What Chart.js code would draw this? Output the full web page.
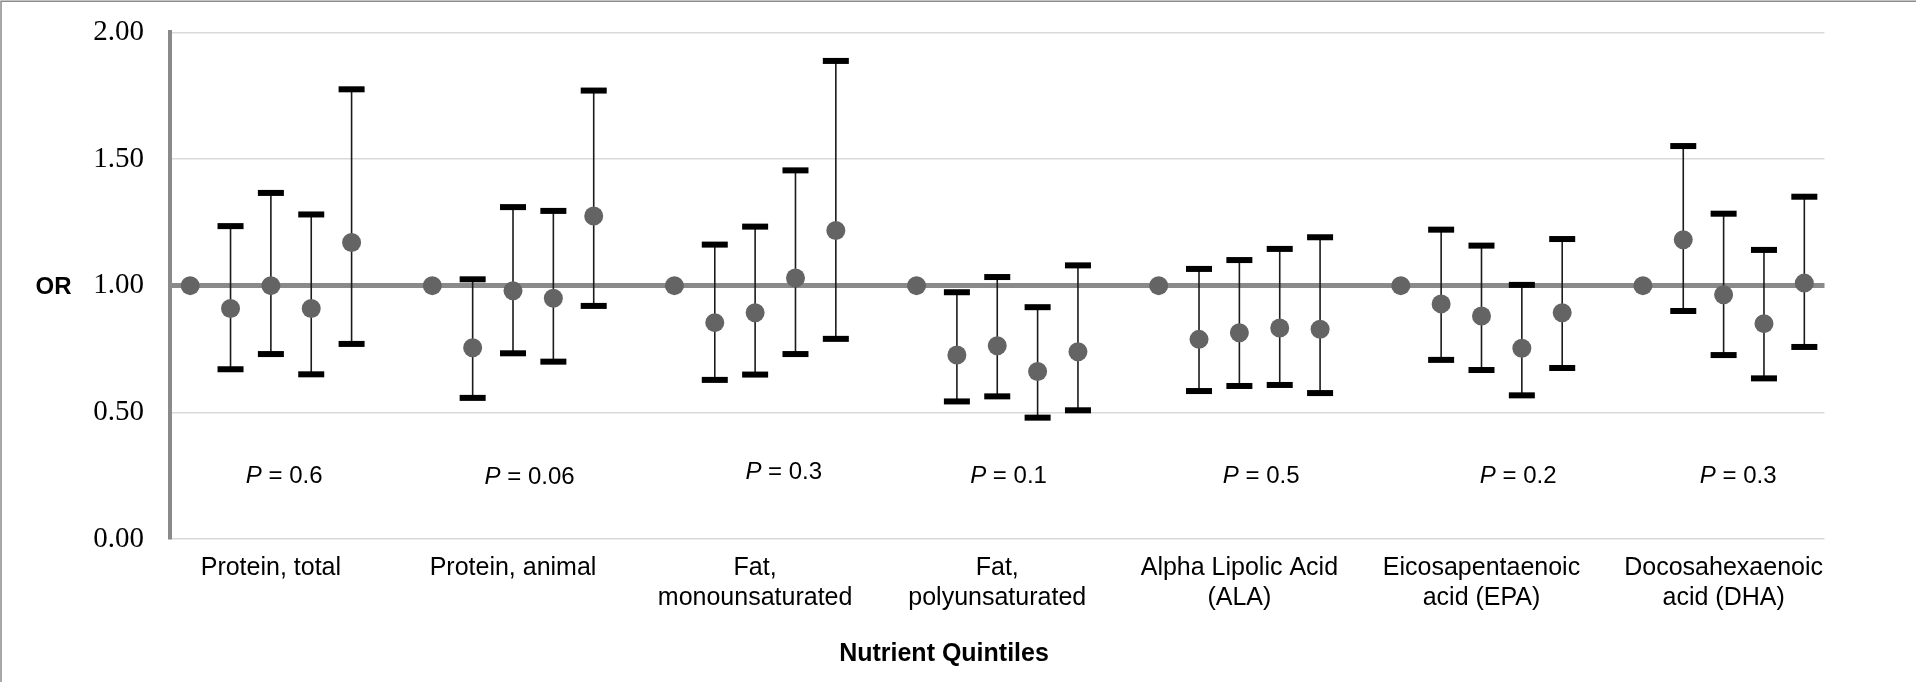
<!DOCTYPE html>
<html>
<head>
<meta charset="utf-8">
<script src="https://cdn.jsdelivr.net/npm/chart.js@4.4.1/dist/chart.umd.min.js"></script>
<style>
  html, body { margin: 0; padding: 0; background: #fff; }
  #wrap { width: 1916px; height: 682px; position: relative; }
</style>
</head>
<body>
<div id="wrap"><canvas id="c" width="1916" height="682"></canvas></div>
<script>
// ---------------- DATA ----------------
const categories = [
  ['Protein, total'],
  ['Protein, animal'],
  ['Fat,', 'monounsaturated'],
  ['Fat,', 'polyunsaturated'],
  ['Alpha Lipolic Acid', '(ALA)'],
  ['Eicosapentaenoic', 'acid (EPA)'],
  ['Docosahexaenoic', 'acid (DHA)']
];
// odds ratios for quintiles Q1..Q5 of each nutrient
const orProteinTotal  = [1.00, 0.91, 1.00, 0.91, 1.17];
const orProteinAnimal = [1.00, 0.755, 0.98, 0.95, 1.275];
const orFatMono       = [1.00, 0.854, 0.893, 1.03, 1.218];
const orFatPoly       = [1.00, 0.726, 0.763, 0.661, 0.739];
const orALA           = [1.00, 0.788, 0.814, 0.833, 0.828];
const orEPA           = [1.00, 0.928, 0.88, 0.753, 0.893];
const orDHA           = [1.00, 1.181, 0.964, 0.85, 1.01];
// lower 95% CI
const loProteinTotal  = [null, 0.67, 0.73, 0.65, 0.77];
const loProteinAnimal = [null, 0.557, 0.733, 0.70, 0.92];
const loFatMono       = [null, 0.628, 0.649, 0.73, 0.79];
const loFatPoly       = [null, 0.543, 0.563, 0.479, 0.508];
const loALA           = [null, 0.584, 0.604, 0.608, 0.576];
const loEPA           = [null, 0.707, 0.667, 0.567, 0.675];
const loDHA           = [null, 0.90, 0.726, 0.634, 0.758];
// upper 95% CI
const hiProteinTotal  = [null, 1.235, 1.366, 1.281, 1.775];
const hiProteinAnimal = [null, 1.025, 1.31, 1.295, 1.77];
const hiFatMono       = [null, 1.162, 1.233, 1.455, 1.887];
const hiFatPoly       = [null, 0.974, 1.034, 0.915, 1.08];
const hiALA           = [null, 1.066, 1.101, 1.145, 1.191];
const hiEPA           = [null, 1.221, 1.158, 1.003, 1.184];
const hiDHA           = [null, 1.551, 1.284, 1.141, 1.351];
// trend P values
const pValues = ['0.6', '0.06', '0.3', '0.1', '0.5', '0.2', '0.3'];
// y axis ticks
const yTicks = [0, 0.5, 1.0, 1.5, 2.0];

// ---------------- LAYOUT (annotation placement, not data) ----------------
// P-label anchor in category-slot units (x) and axis value units (y)
const pLabelX = [2.33, 8.41, 14.71, 20.28, 26.54, 32.91, 38.36];
const pLabelY = [0.249, 0.245, 0.264, 0.246, 0.246, 0.246, 0.246];

// ---------------- BUILD SLOT TABLE ----------------
const orGroups = [orProteinTotal, orProteinAnimal, orFatMono, orFatPoly, orALA, orEPA, orDHA];
const loGroups = [loProteinTotal, loProteinAnimal, loFatMono, loFatPoly, loALA, loEPA, loDHA];
const hiGroups = [hiProteinTotal, hiProteinAnimal, hiFatMono, hiFatPoly, hiALA, hiEPA, hiDHA];
const slotLabels = [], orSlots = [], loSlots = [], hiSlots = [];
orGroups.forEach((g, gi) => {
  g.forEach((v, qi) => {
    slotLabels.push(qi === 2 ? categories[gi] : '');
    orSlots.push(v);
    loSlots.push(loGroups[gi][qi]);
    hiSlots.push(hiGroups[gi][qi]);
  });
  if (gi < orGroups.length - 1) {
    slotLabels.push(''); orSlots.push(null); loSlots.push(null); hiSlots.push(null);
  }
});

const SANS = '"Liberation Sans", Arial, sans-serif';
const SERIF = '"Liberation Serif", "Times New Roman", serif';

const errorBars = {
  id: 'errorBars',
  beforeDatasetsDraw(chart) {
    const ctx = chart.ctx, xs = chart.scales.x, ys = chart.scales.y;
    ctx.save();
    for (let i = 0; i < orSlots.length; i++) {
      if (loSlots[i] == null || hiSlots[i] == null) continue;
      const x = xs.getPixelForValue(i);
      const yl = ys.getPixelForValue(loSlots[i]);
      const yh = ys.getPixelForValue(hiSlots[i]);
      ctx.strokeStyle = '#1a1a1a';
      ctx.lineWidth = 1.6;
      ctx.beginPath(); ctx.moveTo(x, yh); ctx.lineTo(x, yl); ctx.stroke();
      ctx.fillStyle = '#000';
      ctx.fillRect(x - 13, yh - 3, 26, 6);
      ctx.fillRect(x - 13, yl - 3, 26, 6);
    }
    ctx.restore();
  }
};

const extras = {
  id: 'extras',
  beforeDraw(chart) {
    const ctx = chart.ctx;
    ctx.save();
    ctx.fillStyle = '#fff';
    ctx.fillRect(0, 0, chart.width, chart.height);
    ctx.strokeStyle = '#8a8a8a';
    ctx.lineWidth = 1.5;
    ctx.beginPath();
    ctx.moveTo(1, chart.height); ctx.lineTo(1, 1.2); ctx.lineTo(chart.width, 1.2);
    ctx.stroke();
    ctx.restore();
  },
  afterDraw(chart) {
    const ctx = chart.ctx, xs = chart.scales.x, ys = chart.scales.y;
    ctx.save();
    ctx.fillStyle = '#000';
    ctx.textBaseline = 'middle';
    // P labels
    pValues.forEach((p, i) => {
      const cx = xs.getPixelForValue(pLabelX[i]);
      const cy = ys.getPixelForValue(pLabelY[i]);
      const italic = 'italic 24px ' + SANS, normal = '24px ' + SANS;
      ctx.font = italic; const w1 = ctx.measureText('P').width;
      const rest = ' = ' + p;
      ctx.font = normal; const w2 = ctx.measureText(rest).width;
      const x0 = cx - (w1 + w2) / 2;
      ctx.textAlign = 'left';
      ctx.font = italic; ctx.fillText('P', x0, cy);
      ctx.font = normal; ctx.fillText(rest, x0 + w1, cy);
    });
    // OR label
    ctx.font = 'bold 24px ' + SANS;
    ctx.textAlign = 'center';
    ctx.fillText('OR', 53.5, ys.getPixelForValue(1.0) + 2);
    // x axis title
    ctx.font = 'bold 25px ' + SANS;
    ctx.fillText('Nutrient Quintiles', 944, 654);
    ctx.restore();
  }
};

new Chart(document.getElementById('c'), {
  type: 'line',
  data: {
    labels: slotLabels,
    datasets: [{
      data: orSlots,
      showLine: false,
      pointRadius: 9.5,
      pointHoverRadius: 9.5,
      pointBackgroundColor: '#646464',
      pointBorderWidth: 0,
      borderColor: '#646464',
      backgroundColor: '#646464'
    }]
  },
  options: {
    responsive: false,
    devicePixelRatio: 1,
    animation: false,
    events: [],
    layout: { padding: { left: 0, right: 91.5, top: 32.3, bottom: 0 } },
    plugins: { legend: { display: false }, tooltip: { enabled: false }, title: { display: false } },
    scales: {
      x: {
        type: 'category',
        offset: true,
        grid: { display: false, drawTicks: false },
        border: { display: false },
        ticks: {
          autoSkip: false, maxRotation: 0, minRotation: 0,
          padding: 14,
          color: '#000',
          font: { family: SANS, size: 25, lineHeight: 1.2 }
        },
        afterFit(scale) { scale.height = 143; scale.paddingLeft = 0; scale.paddingRight = 0; }
      },
      y: {
        min: 0, max: 2,
        afterBuildTicks(scale) { scale.ticks = yTicks.map(v => ({ value: v })); },
        grid: {
          drawTicks: false,
          color: ctx => (ctx.tick && ctx.tick.value === 1) ? '#8a8a8a' : '#d9d9d9',
          lineWidth: ctx => (ctx.tick && ctx.tick.value === 1) ? 5 : 1.5
        },
        border: { display: true, color: '#8a8a8a', width: 4 },
        ticks: {
          padding: 26,
          color: '#000',
          font: { family: SERIF, size: 29 },
          callback: v => Number(v).toFixed(2)
        },
        afterFit(scale) { scale.width = 170; scale.paddingTop = 0; scale.paddingBottom = 0; }
      }
    }
  },
  plugins: [errorBars, extras]
});
</script>
</body>
</html>
